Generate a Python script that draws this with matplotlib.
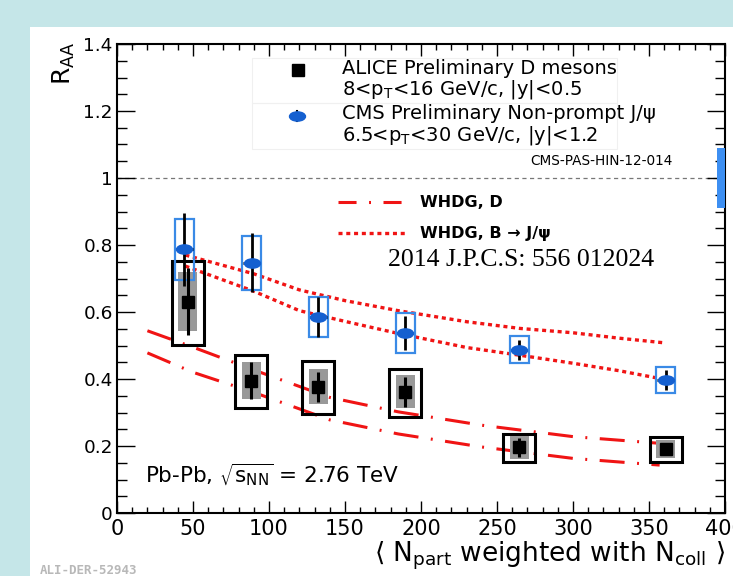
import numpy as np
import matplotlib
matplotlib.use("Agg")
import matplotlib.pyplot as plt
from matplotlib.patches import Rectangle
from matplotlib.path import Path
from matplotlib.ticker import MultipleLocator, FuncFormatter

# ALICE preliminary D mesons
npart_d = np.array([46.5, 88.4, 132.5, 189.5, 264.5, 361.0])
raa_d = np.array([0.631, 0.395, 0.377, 0.362, 0.196, 0.190])
stat_d = np.array([0.100, 0.055, 0.045, 0.045, 0.028, 0.015])
syst_d = np.array([0.087, 0.055, 0.053, 0.050, 0.034, 0.027])
feed_up_d = np.array([0.120, 0.077, 0.078, 0.067, 0.040, 0.038])
feed_dn_d = np.array([0.130, 0.083, 0.082, 0.076, 0.043, 0.037])

# CMS preliminary non-prompt J/psi
npart_b = np.array([44.3, 88.6, 132.5, 189.5, 264.5, 361.0])
raa_b = np.array([0.787, 0.747, 0.586, 0.538, 0.487, 0.397])
stat_b = np.array([0.110, 0.088, 0.060, 0.050, 0.030, 0.030])
syst_b = np.array([0.090, 0.080, 0.060, 0.060, 0.040, 0.040])
glob_b = 0.09

# WHDG model bands
whdg_d_x = [20, 50, 90, 140, 185, 240, 300, 357]
whdg_d_hi = [0.544, 0.495, 0.427, 0.345, 0.302, 0.262, 0.228, 0.208]
whdg_d_lo = [0.478, 0.420, 0.360, 0.278, 0.236, 0.197, 0.163, 0.143]
whdg_b_x = [45, 90, 120, 150, 185, 230, 265, 300, 330, 360]
whdg_b_hi = [0.770, 0.714, 0.666, 0.634, 0.604, 0.571, 0.551, 0.538, 0.522, 0.508]
whdg_b_lo = [0.737, 0.662, 0.604, 0.572, 0.536, 0.494, 0.471, 0.447, 0.425, 0.399]

red = "#f01414"
blue = "#1560d0"
blue_box = "#3a8ae6"

plt.rcParams["mathtext.default"] = "regular"
plt.rcParams["lines.scale_dashes"] = False

W, H = 733, 576
fig = plt.figure(figsize=(W / 100, H / 100), dpi=100, facecolor="#c5e6e8")
fig.add_artist(Rectangle((30 / W, 0), 1, 1 - 27 / H, transform=fig.transFigure,
                         fc="white", ec="none", zorder=-5))
ax = fig.add_axes([117 / W, 1 - 513 / H, 608 / W, 469 / H])

# model curves
for yy in (whdg_d_hi, whdg_d_lo):
    ax.plot(whdg_d_x, yy, color=red, lw=2.2, dashes=(18, 9, 1.4, 9), zorder=2)
for yy in (whdg_b_hi, whdg_b_lo):
    ax.plot(whdg_b_x, yy, color=red, lw=2.4, dashes=(2.9, 2.7), zorder=2)

ax.axhline(1, color="#777777", lw=0.9, dashes=(3, 2.5), zorder=1)

# ALICE boxes
ax.bar(npart_d, feed_up_d + feed_dn_d, bottom=raa_d - feed_dn_d, width=21,
       fill=False, edgecolor="black", linewidth=2.2, zorder=3)
ax.bar(npart_d, 2 * syst_d, bottom=raa_d - syst_d, width=12.5,
       color="#999999", zorder=3)
ax.errorbar(npart_d, raa_d, yerr=stat_d, fmt="s", ms=9, color="black",
            elinewidth=2.2, capsize=0, zorder=5)

# CMS boxes
ax.bar(npart_b, 2 * syst_b, bottom=raa_b - syst_b, width=12.5,
       fill=False, edgecolor=blue_box, linewidth=1.6, zorder=3)
ax.errorbar(npart_b, raa_b, yerr=stat_b, xerr=5.5, fmt="none", ecolor="black",
            elinewidth=2.0, capsize=0, zorder=5)
circ = Path.unit_circle()
ellipse = Path(circ.vertices * [1.0, 0.58], circ.codes)
ax.plot(npart_b, raa_b, ls="none", marker=ellipse, ms=11.5, mfc=blue, mec=blue, zorder=6)

# global uncertainty
ax.bar(397.5, 2 * glob_b, bottom=1 - glob_b, width=5, color="#3d8ff2", zorder=4)

# legend
ta = ax.transAxes
for (x0, y0, x1, y1) in [(0.222, 0.874, 0.822, 0.970), (0.222, 0.776, 0.822, 0.874)]:
    ax.add_patch(Rectangle((x0, y0), x1 - x0, y1 - y0, transform=ta, fill=False,
                           ec="#f0f0f0", lw=0.8, zorder=1))
ax.plot([0.298], [0.9446], "s", ms=8, color="black", transform=ta)
ax.plot([0.296, 0.296], [0.835, 0.858], color="black", lw=1.5, transform=ta)
ax.plot([0.296], [0.8465], ls="none", marker=ellipse, ms=11.5, mfc=blue, mec=blue, transform=ta)
fs = 14
ax.text(0.370, 0.9467, "ALICE Preliminary D mesons", transform=ta, fontsize=fs, va="center")
ax.text(0.370, 0.902, "8<p$_{T}$<16 GeV/c, |y|<0.5", transform=ta, fontsize=fs, va="center")
ax.text(0.370, 0.851, "CMS Preliminary Non-prompt J/\u03c8", transform=ta, fontsize=fs, va="center")
ax.text(0.370, 0.804, "6.5<p$_{T}$<30 GeV/c, |y|<1.2", transform=ta, fontsize=fs, va="center")
ax.text(0.9145, 0.751, "CMS-PAS-HIN-12-014", transform=ta, fontsize=9.8, ha="right", va="center")

ax.plot([0.3635, 0.477], [0.663, 0.663], color=red, lw=2.2, dashes=(13, 9, 1.4, 9), transform=ta)
ax.plot([0.3635, 0.477], [0.596, 0.596], color=red, lw=2.4, dashes=(2.9, 2.7), transform=ta)
ax.text(0.498, 0.663, "WHDG, D", transform=ta, fontsize=11.5, fontweight="bold", va="center")
ax.text(0.498, 0.596, "WHDG, B \u2192 J/\u03c8", transform=ta, fontsize=11.5, fontweight="bold", va="center")
ax.text(0.4457, 0.539, "2014 J.P.C.S: 556 012024", transform=ta, fontsize=18.5,
        family="Liberation Serif", va="center")
ax.text(0.046, 0.081, r"Pb-Pb, $\sqrt{s_{NN}}$ = 2.76 TeV", transform=ta, fontsize=15.5, va="center")

# axes
ax.set_xlim(0, 400)
ax.set_ylim(0, 1.4)
ax.xaxis.set_major_locator(MultipleLocator(50))
ax.xaxis.set_minor_locator(MultipleLocator(10))
ax.yaxis.set_major_locator(MultipleLocator(0.2))
ax.yaxis.set_minor_locator(MultipleLocator(0.05))
fmt = FuncFormatter(lambda v, _: f"{v:g}")
ax.xaxis.set_major_formatter(fmt)
ax.yaxis.set_major_formatter(fmt)
ax.tick_params(which="both", direction="in", top=True, right=True, width=1)
ax.tick_params(axis="x", which="major", length=8.4, labelsize=15, pad=4)
ax.tick_params(axis="x", which="minor", length=4)
ax.tick_params(axis="y", which="major", length=13, labelsize=13.3, pad=3)
ax.tick_params(axis="y", which="minor", length=7)
for s in ax.spines.values():
    s.set_linewidth(1.5)

fig.text(77 / W, 1 - 42 / H, "R$_{AA}$", rotation=90, ha="right", va="top", fontsize=18)
fig.text(725 / W, 1 - 562 / H,
         r"$\langle$ N$_{part}$ weighted with N$_{coll}$ $\rangle$",
         ha="right", va="baseline", fontsize=19)
fig.text(40 / W, 1 - 571 / H, "ALI-DER-52943", family="DejaVu Sans Mono",
         fontweight="bold", fontsize=9, color="#b8b8b8", va="center")

fig.savefig("out.png", dpi=100)
